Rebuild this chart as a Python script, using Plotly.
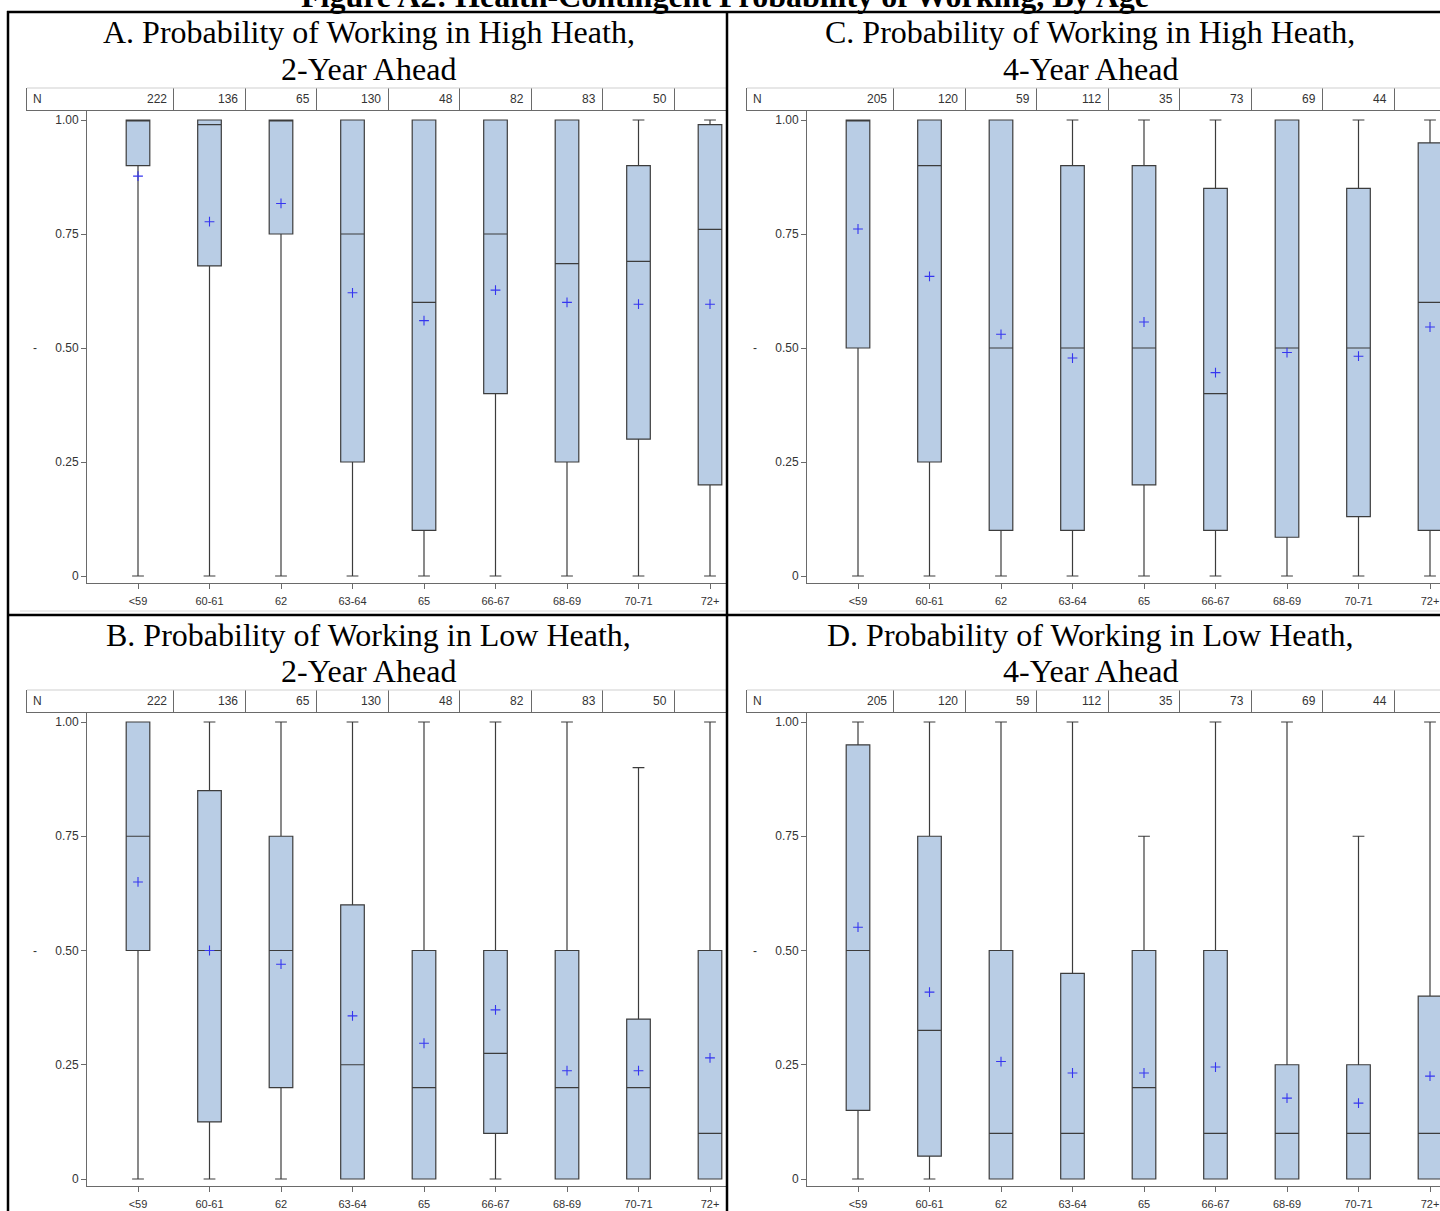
import plotly.graph_objects as go

W, H = 1440, 1211

# ---------------- data ----------------
categories = ["<59", "60-61", "62", "63-64", "65", "66-67", "68-69", "70-71", "72+"]

n_2yr = [222, 136, 65, 130, 48, 82, 83, 50, None]
n_4yr = [205, 120, 59, 112, 35, 73, 69, 44, None]

# A. High health, 2-year ahead
a_low = [0, 0, 0, 0, 0, 0, 0, 0, 0]
a_q1 = [0.90, 0.68, 0.75, 0.25, 0.10, 0.40, 0.25, 0.30, 0.20]
a_med = [1.00, 0.99, 1.00, 0.75, 0.60, 0.75, 0.685, 0.69, 0.76]
a_q3 = [1.00, 1.00, 1.00, 1.00, 1.00, 1.00, 1.00, 0.90, 0.99]
a_high = [1, 1, 1, 1, 1, 1, 1, 1, 1]
a_mean = [0.877, 0.777, 0.817, 0.621, 0.560, 0.627, 0.600, 0.596, 0.596]

# B. Low health, 2-year ahead
b_low = [0, 0, 0, 0, 0, 0, 0, 0, 0]
b_q1 = [0.50, 0.125, 0.20, 0.0, 0.0, 0.10, 0.0, 0.0, 0.0]
b_med = [0.75, 0.50, 0.50, 0.25, 0.20, 0.275, 0.20, 0.20, 0.10]
b_q3 = [1.00, 0.85, 0.75, 0.60, 0.50, 0.50, 0.50, 0.35, 0.50]
b_high = [1, 1, 1, 1, 1, 1, 1, 0.90, 1]
b_mean = [0.650, 0.500, 0.470, 0.357, 0.297, 0.370, 0.237, 0.237, 0.265]

# C. High health, 4-year ahead
c_low = [0, 0, 0, 0, 0, 0, 0, 0, 0]
c_q1 = [0.50, 0.25, 0.10, 0.10, 0.20, 0.10, 0.085, 0.13, 0.10]
c_med = [1.00, 0.90, 0.50, 0.50, 0.50, 0.40, 0.50, 0.50, 0.60]
c_q3 = [1.00, 1.00, 1.00, 0.90, 0.90, 0.85, 1.00, 0.85, 0.95]
c_high = [1, 1, 1, 1, 1, 1, 1, 1, 1]
c_mean = [0.761, 0.657, 0.530, 0.478, 0.557, 0.446, 0.490, 0.482, 0.546]

# D. Low health, 4-year ahead
d_low = [0, 0, 0, 0, 0, 0, 0, 0, 0]
d_q1 = [0.15, 0.05, 0.0, 0.0, 0.0, 0.0, 0.0, 0.0, 0.0]
d_med = [0.50, 0.325, 0.10, 0.10, 0.20, 0.10, 0.10, 0.10, 0.10]
d_q3 = [0.95, 0.75, 0.50, 0.45, 0.50, 0.50, 0.25, 0.25, 0.40]
d_high = [1, 1, 1, 1, 0.75, 1, 1, 0.75, 1]
d_mean = [0.551, 0.409, 0.257, 0.232, 0.232, 0.245, 0.177, 0.166, 0.225]

main_title = "Figure A2: Health-Contingent Probability of Working, By Age"
titles = {
    "A": ["A. Probability of Working in High Heath,", "2-Year Ahead"],
    "B": ["B. Probability of Working in Low Heath,", "2-Year Ahead"],
    "C": ["C. Probability of Working in High Heath,", "4-Year Ahead"],
    "D": ["D. Probability of Working in Low Heath,", "4-Year Ahead"],
}
ytick_vals = [0, 0.25, 0.5, 0.75, 1.0]
ytick_text = ["0", "0.25", "0.50", "0.75", "1.00"]

# ---------------- layout geometry (pixels) ----------------
STEP = 71.5          # px per category
FIRST = 51           # px from plot left edge to first category centre
cols = {"L": dict(plot=(87, 727), nrow=(27, 727), dash=35, tcx=369),
        "R": dict(plot=(807, 1440), nrow=(747, 1440), dash=755, tcx=1090)}
rows = {"T": dict(nrow=(88, 110), plot=(110, 583), title=(32, 69), one=120, zero=576),
        "B": dict(nrow=(690, 712), plot=(712, 1186), title=(635, 671), one=722, zero=1179)}

panels = [
    ("A", "L", "T", n_2yr, a_low, a_q1, a_med, a_q3, a_high, a_mean),
    ("C", "R", "T", n_4yr, c_low, c_q1, c_med, c_q3, c_high, c_mean),
    ("B", "L", "B", n_2yr, b_low, b_q1, b_med, b_q3, b_high, b_mean),
    ("D", "R", "B", n_4yr, d_low, d_q1, d_med, d_q3, d_high, d_mean),
]


def px_x(p):
    return p / W


def px_y(p):
    return 1 - p / H


fig = go.Figure()
layout = dict(width=W, height=H, autosize=False,
              margin=dict(l=0, r=0, t=0, b=0),
              paper_bgcolor="white", plot_bgcolor="white",
              showlegend=False)
annotations = []
shapes = []

tick_font = dict(family="Liberation Sans Narrow, Arial Narrow, Liberation Sans, Arial, sans-serif",
                 size=11, color="#333333")
ytick_font = dict(tick_font, size=12)
axcol = "#6a6a6a"
serif = "Liberation Serif, Times New Roman, serif"

k = 1
for key, c, r, ns, lo, q1, med, q3, hi, mean in panels:
    col, row = cols[c], rows[r]
    ia, ib = k, k + 1
    k += 2
    xa, ya = ("x" if ia == 1 else f"x{ia}"), ("y" if ia == 1 else f"y{ia}")
    xb, yb = f"x{ib}", f"y{ib}"
    xla = "xaxis" if ia == 1 else f"xaxis{ia}"
    yla = "yaxis" if ia == 1 else f"yaxis{ia}"

    p0, p1 = col["plot"]
    centre0 = p0 + FIRST
    xr = [(p0 - centre0) / STEP, (p1 - centre0) / STEP]
    top, bot = row["plot"]
    unit = row["zero"] - row["one"]
    yr = [-(bot - row["zero"]) / unit, 1 + (row["one"] - top) / unit]

    layout[xla] = dict(domain=[px_x(p0), px_x(p1)], anchor=ya, type="category",
                       categoryorder="array", categoryarray=categories,
                       range=xr, showgrid=False, zeroline=False,
                       showline=True, linecolor=axcol, linewidth=1,
                       ticks="outside", ticklen=5, tickcolor=axcol,
                       ticklabelstandoff=3,
                       tickfont=tick_font, fixedrange=True)
    layout[yla] = dict(domain=[px_y(bot), px_y(top)], anchor=xa,
                       range=yr, showgrid=False, zeroline=False,
                       showline=True, linecolor=axcol, linewidth=1,
                       ticks="outside", ticklen=5, tickcolor=axcol,
                       tickvals=ytick_vals, ticktext=ytick_text,
                       tickfont=ytick_font, fixedrange=True)

    fig.add_trace(go.Box(x=categories, q1=q1, median=med, q3=q3,
                         lowerfence=lo, upperfence=hi,
                         xaxis=xa, yaxis=ya, width=0.33, whiskerwidth=0.5,
                         boxpoints=False, fillcolor="#b9cde5",
                         line=dict(color="#3c3c3c", width=1.2),
                         hoverinfo="skip"))
    fig.add_trace(go.Scatter(x=categories, y=mean, mode="markers",
                             xaxis=xa, yaxis=ya,
                             marker=dict(symbol="cross-thin", size=7,
                                         line=dict(color="#3535f0", width=1.1)),
                             hoverinfo="skip"))

    # N row strip
    n0, n1 = col["nrow"]
    nr = [(n0 - centre0) / STEP, (n1 - centre0) / STEP]
    t0, t1 = row["nrow"]
    layout[f"xaxis{ib}"] = dict(domain=[px_x(n0), px_x(n1)], anchor=yb,
                                range=nr, showgrid=True, gridcolor=axcol, gridwidth=1,
                                tickvals=[i + 0.5 for i in range(len(categories) - 1)],
                                showticklabels=False, ticks="", zeroline=False,
                                showline=True, linecolor=axcol, linewidth=1,
                                fixedrange=True)
    layout[f"yaxis{ib}"] = dict(domain=[px_y(t1), px_y(t0)], anchor=xb,
                                range=[0, 1], showgrid=False, zeroline=False,
                                showticklabels=False, ticks="",
                                showline=True, linecolor=axcol, linewidth=1,
                                fixedrange=True)
    shapes.append(dict(type="line", xref=f"{xb} domain", yref=f"{yb} domain",
                       x0=0, x1=1, y0=1, y1=1, line=dict(color="#cfcfcf", width=1)))
    annotations.append(dict(text="N", xref=f"{xb} domain", yref=f"{yb} domain",
                            x=0, y=0.5, xshift=4, xanchor="left", yanchor="middle",
                            showarrow=False, font=ytick_font))
    for i, n in enumerate(ns):
        if n is None:
            continue
        annotations.append(dict(text=str(n), xref=xb, yref=f"{yb} domain",
                                x=i + 0.5, y=0.5, xshift=-5, xanchor="right",
                                yanchor="middle", showarrow=False, font=ytick_font))

    # y-axis label glyph
    annotations.append(dict(text="-", xref="paper", yref=ya, x=px_x(col["dash"]), y=0.5,
                            xanchor="center", yanchor="middle", showarrow=False,
                            font=ytick_font))
    # panel title (two lines)
    for line_text, ty in zip(titles[key], row["title"]):
        annotations.append(dict(text=line_text, xref="paper", yref="paper",
                                x=px_x(col["tcx"]), y=px_y(ty),
                                xanchor="center", yanchor="middle", showarrow=False,
                                font=dict(family=serif, size=32, color="black")))

# main (cropped) title
annotations.append(dict(text="<b>" + main_title + "</b>", xref="paper", yref="paper",
                        x=px_x(725), y=px_y(-4), xanchor="center", yanchor="middle",
                        showarrow=False,
                        font=dict(family=serif, size=32, color="black")))

# table frame lines
blk = dict(color="black", width=2.5)
shapes += [
    dict(type="line", xref="paper", yref="paper", x0=px_x(7), x1=1, y0=px_y(12), y1=px_y(12), line=blk),
    dict(type="line", xref="paper", yref="paper", x0=px_x(8), x1=px_x(8), y0=px_y(11), y1=0, line=blk),
    dict(type="line", xref="paper", yref="paper", x0=px_x(727), x1=px_x(727), y0=px_y(11), y1=0, line=blk),
    dict(type="line", xref="paper", yref="paper", x0=px_x(7), x1=1, y0=px_y(615), y1=px_y(615), line=blk),
    dict(type="line", xref="paper", yref="paper", x0=px_x(20), x1=px_x(725), y0=px_y(611), y1=px_y(611),
         line=dict(color="#d8d8d8", width=1)),
    dict(type="line", xref="paper", yref="paper", x0=px_x(740), x1=1, y0=px_y(611), y1=px_y(611),
         line=dict(color="#d8d8d8", width=1)),
]

layout["annotations"] = annotations
layout["shapes"] = shapes
fig.update_layout(**layout)

fig.write_html("out.html", include_plotlyjs=True, full_html=True,
               config={"displayModeBar": False},
               post_script="document.body.style.margin='0';document.body.style.overflow='hidden';")
